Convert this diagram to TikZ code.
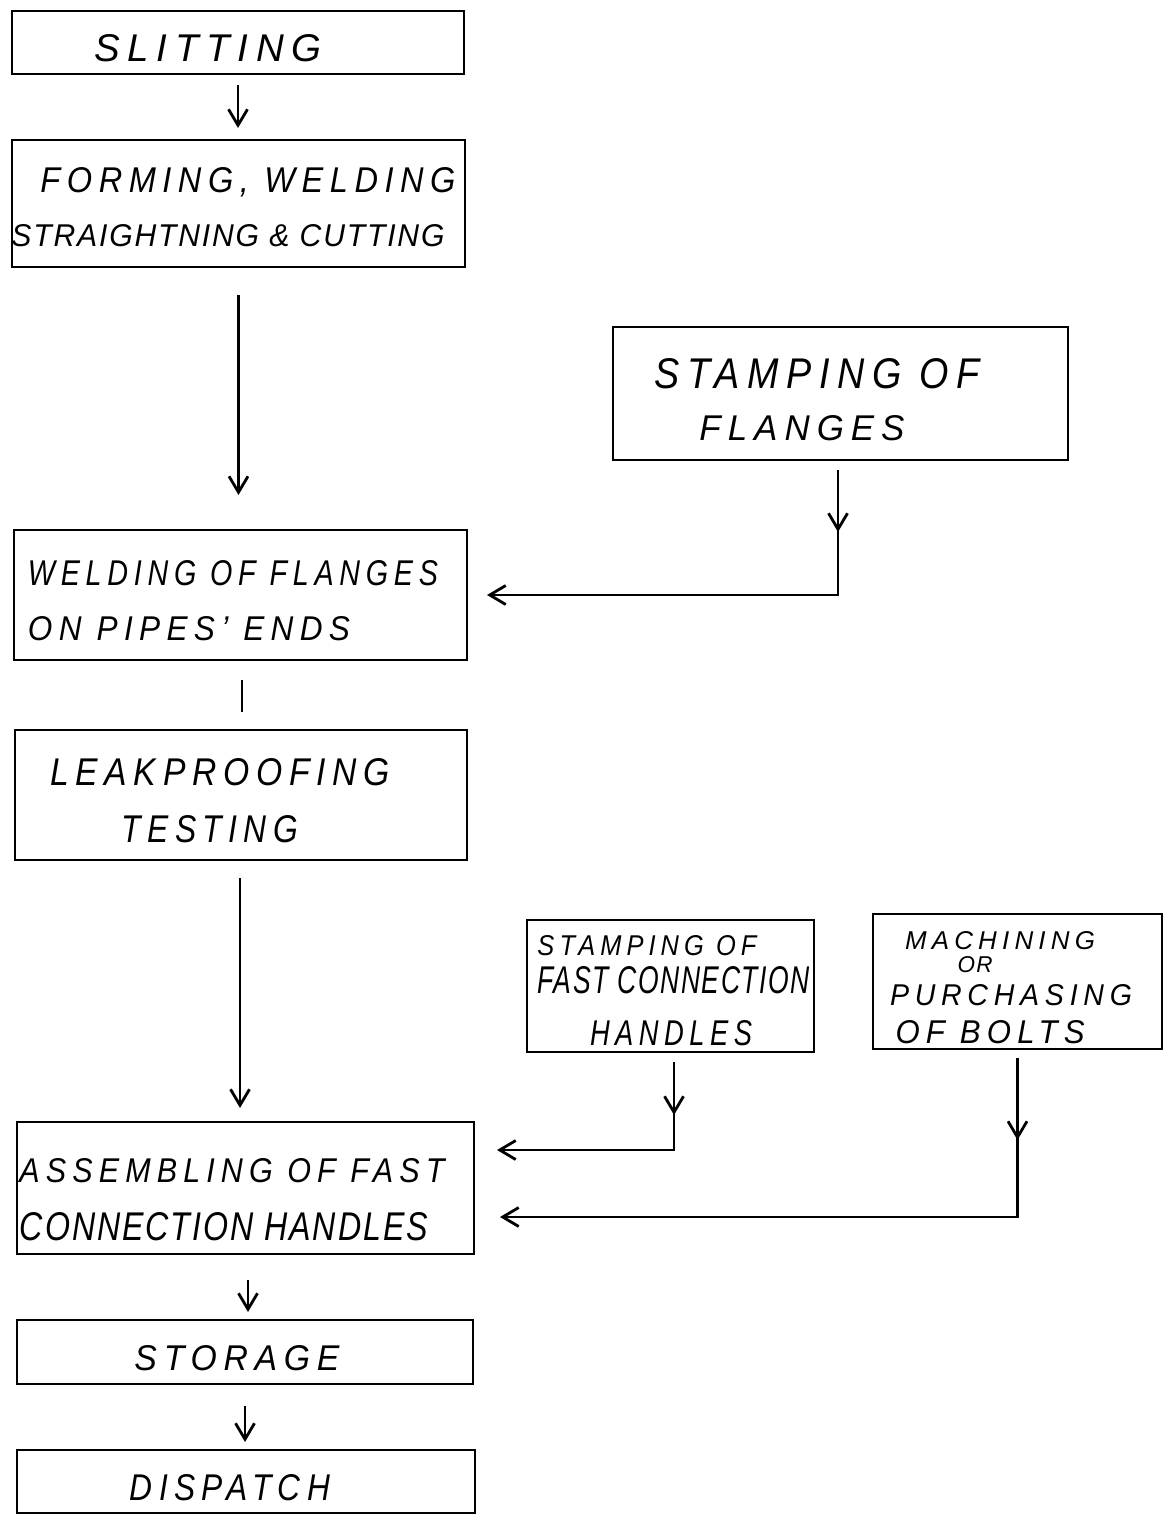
\documentclass[tikz,border=0pt]{standalone}
\usepackage{fontspec}
\setmainfont{Liberation Sans}[LetterSpace=20]
\newfontfamily\tightfont{Liberation Sans}[LetterSpace=6]
\usepackage{graphicx}
\usetikzlibrary{arrows.meta,decorations.markings}
\tikzset{
  box/.style={draw, rectangle, line width=2.8pt, inner sep=0pt, outer sep=0pt},
  lab/.style={anchor=base, inner sep=0pt, outer sep=0pt, font=\itshape},
  conn/.style={line width=2.8pt, -{Straight Barb[length=16pt,width=19pt]}},
  plainconn/.style={line width=2.8pt},
  midarr/.style={postaction={decorate}, decoration={markings, mark=at position #1 with {\arrow{Straight Barb[length=16pt,width=19pt]}}}},
}
\newcommand{\lbl}[6]{\node[lab] (#1) at (#2,#3) {\resizebox{#4pt}{#5pt}{#6}};}
\begin{document}
\begin{tikzpicture}[x=1pt,y=-1pt]
\useasboundingbox (0,0) rectangle (1167,1517);
% boxes
\node[box, minimum width=452pt, minimum height=63pt] (sl) at (238,42.5) {};
\node[box, minimum width=453pt, minimum height=127pt] (fw) at (238.5,203.5) {};
\node[box, minimum width=455pt, minimum height=133pt] (sf) at (840.5,393.5) {};
\node[box, minimum width=453pt, minimum height=130pt] (wf) at (240.5,595) {};
\node[box, minimum width=452pt, minimum height=130pt] (lt) at (241,795) {};
\node[box, minimum width=287pt, minimum height=132pt] (sh) at (670.5,986) {};
\node[box, minimum width=289pt, minimum height=135pt] (mb) at (1017.5,981.5) {};
\node[box, minimum width=457pt, minimum height=132pt] (as) at (245.5,1188) {};
\node[box, minimum width=456pt, minimum height=64pt] (st) at (245,1352) {};
\node[box, minimum width=458pt, minimum height=63pt] (di) at (246,1481.5) {};
% labels
\lbl{t1}{208}{61.5}{227}{27}{SLITTING}
\lbl{t2}{248}{193}{415}{25}{FORMING, WELDING}
\lbl{t3}{228}{246}{433}{22}{\tightfont STRAIGHTNING \& CUTTING}
\lbl{t4}{817}{388}{325}{30}{STAMPING OF}
\lbl{t5}{802}{440}{205}{25}{FLANGES}
\lbl{t6}{233}{585}{410}{25}{WELDING OF FLANGES}
\lbl{t7}{189}{640}{322}{24}{ON PIPES' ENDS}
\lbl{t8}{220}{785}{340}{27}{LEAKPROOFING}
\lbl{t9}{210}{842}{176}{27}{TESTING}
\lbl{t10}{647}{955}{219}{20}{STAMPING OF}
\lbl{t11}{674}{993}{272}{27}{\tightfont FAST CONNECTION}
\lbl{t12}{671}{1045}{162}{25}{HANDLES}
\lbl{t13}{1000}{949}{190}{18}{MACHINING}
\lbl{t14}{975}{972}{35}{16}{\tightfont OR}
\lbl{t15}{1011}{1005}{242}{21}{PURCHASING}
\lbl{t16}{990}{1043}{189}{23}{OF BOLTS}
\lbl{t17}{232}{1182}{425}{24}{ASSEMBLING OF FAST}
\lbl{t18}{224}{1240}{408}{28}{\tightfont CONNECTION HANDLES}
\lbl{t19}{237}{1370}{205}{25}{STORAGE}
\lbl{t20}{230}{1500}{200}{26}{DISPATCH}
% vertical connectors
\draw[conn, shorten <=11pt, shorten >=12pt] (sl.south) -- (sl.south |- fw.north);
\draw[conn, shorten <=28pt, shorten >=35pt] (fw.south) -- (fw.south |- wf.north);
\draw[plainconn, shorten <=20pt, shorten >=18pt] ([xshift=1.5pt]wf.south) -- ([xshift=1.5pt]wf.south |- lt.north);
\draw[conn, shorten <=18pt, shorten >=14pt] ([xshift=-1pt]lt.south) -- ([xshift=-1pt]lt.south |- as.north);
\draw[conn, shorten <=26pt, shorten >=8pt] ([xshift=2.5pt]as.south) -- ([xshift=2.5pt]as.south |- st.north);
\draw[conn, shorten <=22pt, shorten >=8pt] (st.south) -- (st.south |- di.north);
% side connectors
\coordinate (ah) at ([yshift=38pt]as.east);
\coordinate (ab) at ([yshift=-29pt]as.east);
\draw[conn, midarr=62pt] ([xshift=-2.5pt,yshift=-10pt]sf.south) -- ([xshift=-2.5pt]sf.south |- wf.east) -- ([xshift=20pt]wf.east);
\draw[conn, midarr=53pt] ([xshift=3.5pt,yshift=-10pt]sh.south) -- ([xshift=3.5pt]sh.south |- ah) -- ([xshift=23pt]ah);
\draw[conn, midarr=82pt] ([yshift=-9pt]mb.south) -- (mb.south |- ab) -- ([xshift=26pt]ab);
\end{tikzpicture}
\end{document}
